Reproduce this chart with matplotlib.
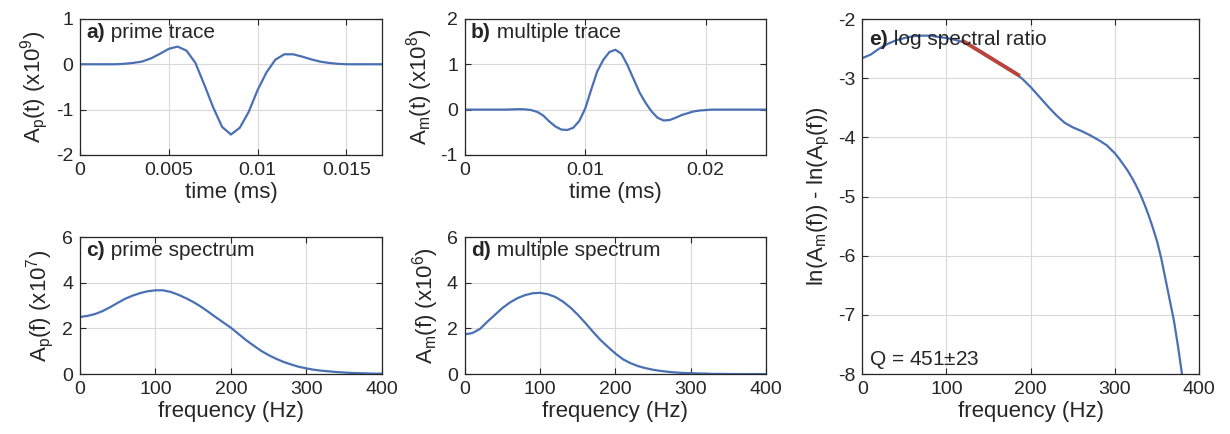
import numpy as np
import matplotlib
matplotlib.use('Agg')
from matplotlib import pyplot as plt
from matplotlib.ticker import FormatStrFormatter

plt.rcParams['font.family'] = ['Liberation Sans', 'DejaVu Sans']
plt.rcParams['mathtext.fontset'] = 'custom'
plt.rcParams['mathtext.rm'] = 'Liberation Sans'
plt.rcParams['mathtext.it'] = 'Liberation Sans:italic'
plt.rcParams['axes.unicode_minus'] = False
plt.rcParams['font.size'] = 15

BLUE = '#4a70b4'
RED = '#b8443c'
DARK = '#262626'

# a) prime trace, sampled every 0.0005 ms
t_prime = np.arange(35) * 0.0005
a_prime = [0, 0, 0, 0, 0.0, 0.01, 0.03, 0.06, 0.13, 0.23, 0.34, 0.39, 0.30,
           0.03, -0.45, -0.95, -1.38, -1.55, -1.40, -1.05, -0.57, -0.18,
           0.10, 0.22, 0.22, 0.17, 0.11, 0.06, 0.03, 0.01, 0, 0, 0, 0, 0]

# b) multiple trace, sampled every 0.0005 ms
t_mult = np.arange(51) * 0.0005
a_mult = [0, 0, 0, 0, 0, 0, 0, 0, 0.005, 0.01, 0.005, -0.01, -0.05, -0.13,
          -0.26, -0.37, -0.44, -0.45, -0.40, -0.25, 0.03, 0.45, 0.85, 1.10,
          1.27, 1.32, 1.23, 0.98, 0.68, 0.38, 0.15, -0.04, -0.18, -0.24,
          -0.23, -0.18, -0.12, -0.08, -0.04, -0.02, -0.01, 0, 0, 0, 0, 0,
          0, 0, 0, 0, 0]

# c), d) spectra, every 10 Hz
freq = np.arange(41) * 10
spec_prime = [2.50, 2.55, 2.63, 2.76, 2.93, 3.12, 3.30, 3.44, 3.55, 3.63,
              3.67, 3.67, 3.60, 3.48, 3.33, 3.16, 2.96, 2.73, 2.49, 2.26,
              2.03, 1.76, 1.49, 1.25, 1.02, 0.83, 0.67, 0.53, 0.42, 0.32,
              0.25, 0.19, 0.15, 0.12, 0.09, 0.07, 0.05, 0.04, 0.03, 0.02,
              0.02]
spec_mult = [1.74, 1.80, 1.98, 2.30, 2.60, 2.90, 3.14, 3.33, 3.46, 3.54,
             3.56, 3.50, 3.38, 3.18, 2.92, 2.60, 2.24, 1.86, 1.50, 1.19,
             0.90, 0.65, 0.48, 0.35, 0.26, 0.19, 0.14, 0.10, 0.07, 0.05,
             0.04, 0.03, 0.02, 0.01, 0.01, 0.005, 0.003, 0.002, 0.001,
             0.001, 0.001]

# e) log spectral ratio (10 Hz steps, 5 Hz on the steep tail)
freq_ratio = [0, 10, 20, 30, 40, 50, 60, 70, 80, 90, 100, 110, 120, 130,
              140, 150, 160, 170, 180, 190, 200, 210, 220, 230, 240, 250,
              260, 270, 280, 290, 300, 305, 310, 315, 320, 325, 330, 335,
              340, 345, 350, 355, 360, 365, 370, 375, 380]
log_ratio = [-2.66, -2.60, -2.50, -2.42, -2.36, -2.32, -2.29, -2.28, -2.28,
             -2.30, -2.32, -2.35, -2.39, -2.46, -2.54, -2.63, -2.72, -2.80,
             -2.89, -3.01, -3.15, -3.31, -3.47, -3.62, -3.75, -3.83, -3.89,
             -3.96, -4.04, -4.13, -4.27, -4.36, -4.46, -4.56, -4.68, -4.81,
             -4.96, -5.13, -5.32, -5.53, -5.76, -6.05, -6.40, -6.75, -7.10,
             -7.55, -8.05]
fit_band = (118, 187)
q_text = 'Q = 451$\\pm$23'

TICK_FS = 14
LABEL_FS = 16
TITLE_FS = 15


def style_axes(ax):
    ax.grid(True, color='#d8d8d8', linewidth=0.8)
    ax.set_axisbelow(True)
    ax.tick_params(direction='in', length=4, width=0.8, top=True, right=True,
                   colors=DARK, labelcolor=DARK, pad=5, labelsize=TICK_FS)
    for s in ax.spines.values():
        s.set_color(DARK)
        s.set_linewidth(0.9)


def panel_title(ax, tag, text):
    t1 = ax.text(0.02, 0.97, tag, transform=ax.transAxes, fontweight='bold',
                 va='top', ha='left', color=DARK, fontsize=TITLE_FS)
    ax.annotate(' ' + text, xy=(1, 0), xycoords=t1, va='bottom', ha='left',
                color=DARK, fontsize=TITLE_FS)


def labels(ax, xl, yl):
    ax.set_xlabel(xl, color=DARK, fontsize=LABEL_FS, labelpad=2)
    ax.set_ylabel(yl, color=DARK, fontsize=LABEL_FS)


fig = plt.figure(figsize=(12.3, 4.34), dpi=100)
ax_a = fig.add_axes([0.065, 0.643, 0.2455, 0.3134])
ax_b = fig.add_axes([0.378, 0.643, 0.2447, 0.3134])
ax_c = fig.add_axes([0.065, 0.138, 0.2455, 0.3157])
ax_d = fig.add_axes([0.378, 0.138, 0.2447, 0.3157])
ax_e = fig.add_axes([0.701, 0.138, 0.274, 0.818])

ax_a.plot(t_prime, a_prime, color=BLUE, lw=1.6)
ax_a.set_xlim(0, 0.017)
ax_a.set_ylim(-2, 1)
ax_a.set_xticks([0, 0.005, 0.01, 0.015])
ax_a.xaxis.set_major_formatter(FormatStrFormatter('%g'))
ax_a.set_yticks([-2, -1, 0, 1])
labels(ax_a, 'time (ms)', 'A$_\\mathrm{p}$(t) (x10$^9$)')
panel_title(ax_a, 'a)', 'prime trace')

ax_b.plot(t_mult, a_mult, color=BLUE, lw=1.6)
ax_b.set_xlim(0, 0.025)
ax_b.set_ylim(-1, 2)
ax_b.set_xticks([0, 0.01, 0.02])
ax_b.xaxis.set_major_formatter(FormatStrFormatter('%g'))
ax_b.set_yticks([-1, 0, 1, 2])
labels(ax_b, 'time (ms)', 'A$_\\mathrm{m}$(t) (x10$^8$)')
panel_title(ax_b, 'b)', 'multiple trace')

ax_c.plot(freq, spec_prime, color=BLUE, lw=1.6)
ax_c.set_xlim(0, 400)
ax_c.set_ylim(0, 6)
ax_c.set_xticks([0, 100, 200, 300, 400])
ax_c.set_yticks([0, 2, 4, 6])
labels(ax_c, 'frequency (Hz)', 'A$_\\mathrm{p}$(f) (x10$^7$)')
panel_title(ax_c, 'c)', 'prime spectrum')

ax_d.plot(freq, spec_mult, color=BLUE, lw=1.6)
ax_d.set_xlim(0, 400)
ax_d.set_ylim(0, 6)
ax_d.set_xticks([0, 100, 200, 300, 400])
ax_d.set_yticks([0, 2, 4, 6])
labels(ax_d, 'frequency (Hz)', 'A$_\\mathrm{m}$(f) (x10$^6$)')
panel_title(ax_d, 'd)', 'multiple spectrum')

# linear fit of the log ratio over the fit band
fr = np.array(freq_ratio, dtype=float)
lr = np.array(log_ratio)
sel = (fr >= fit_band[0] - 5) & (fr <= fit_band[1] + 5)
slope, icpt = np.polyfit(fr[sel], lr[sel], 1)
fit_f = np.array(fit_band, dtype=float)

ax_e.plot(fr, lr, color=BLUE, lw=1.6)
ax_e.plot(fit_f, slope * fit_f + icpt, color=RED, lw=2.8,
          solid_capstyle='butt')
ax_e.set_xlim(0, 400)
ax_e.set_ylim(-8, -2)
ax_e.set_xticks([0, 100, 200, 300, 400])
ax_e.set_yticks([-8, -7, -6, -5, -4, -3, -2])
labels(ax_e, 'frequency (Hz)',
       'ln(A$_\\mathrm{m}$(f)) - ln(A$_\\mathrm{p}$(f))')
panel_title(ax_e, 'e)', 'log spectral ratio')
ax_e.text(0.02, 0.01, q_text, transform=ax_e.transAxes, va='bottom',
          ha='left', color=DARK, fontsize=TITLE_FS)

for ax in (ax_a, ax_b, ax_c, ax_d, ax_e):
    style_axes(ax)

fig.savefig('out.png', dpi=100)
